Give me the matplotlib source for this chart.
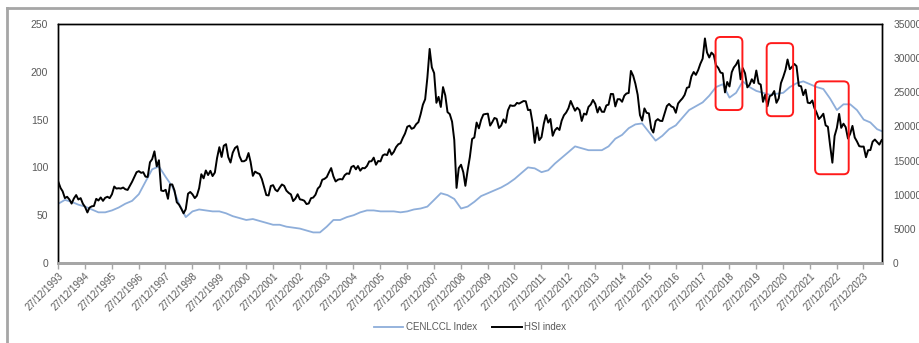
import numpy as np
import pandas as pd
import matplotlib
matplotlib.use("Agg")
import matplotlib.pyplot as plt
import matplotlib.dates as mdates
from matplotlib.lines import Line2D
from matplotlib.patches import FancyBboxPatch
from matplotlib.transforms import IdentityTransform

plt.rcParams['font.family'] = ['Liberation Sans', 'DejaVu Sans']

# =========================================================
# DATA
# =========================================================
# HSI index, month-end, Dec 1993 .. Aug 2024
hsi_values = [
    11900,
    10980, 10500, 9500, 9700, 9300, 8700, 9450, 9950, 9300, 9500, 8690, 8190,          # 1994
    7400, 8100, 8300, 8350, 9400, 9150, 9600, 9100, 9550, 9700, 9500, 10070,           # 1995
    11200, 10900, 10950, 10900, 11050, 10800, 10700, 11300, 11900, 12600, 13300, 13450,  # 1996
    13200, 13300, 12650, 12600, 14750, 15200, 16350, 14150, 15050, 10620, 10530, 10720,  # 1997
    9400, 11500, 11500, 10600, 8900, 8550, 7950, 7270, 7880, 10150, 10400, 10050,      # 1998
    9500, 9850, 10950, 13000, 12400, 13550, 12880, 13500, 12730, 13250, 15380, 16960,  # 1999
    15530, 17170, 17400, 15520, 14710, 16150, 16840, 17100, 15650, 14900, 14900, 15100,  # 2000
    16100, 14800, 12760, 13390, 13170, 13040, 12300, 11090, 9950, 9890, 11280, 11400,  # 2001
    10720, 10500, 11030, 11500, 11300, 10600, 10270, 10040, 9070, 9440, 10070, 9320,   # 2002
    9250, 9120, 8630, 8720, 9490, 9580, 10000, 10900, 11230, 12190, 12320, 12580,      # 2003
    13290, 13900, 12680, 11940, 12200, 12290, 12240, 12850, 13120, 13050, 14060, 14230,  # 2004
    13720, 14200, 13520, 13910, 13870, 14200, 14880, 14900, 15430, 14390, 14940, 14880,  # 2005
    15750, 15920, 15800, 16660, 15860, 16270, 16970, 17390, 17540, 18320, 18960, 19960,  # 2006
    20110, 19650, 19800, 20320, 20630, 21770, 23180, 23980, 27140, 31350, 28640, 27810,  # 2007
    23460, 24330, 22850, 25760, 24530, 22100, 21800, 20700, 18020, 11000, 13890, 14390,  # 2008
    13280, 11300, 13580, 15520, 18170, 18380, 20570, 19720, 20960, 21750, 21820, 21870,  # 2009
    20120, 20610, 21240, 21110, 19770, 20130, 21030, 20540, 22360, 23100, 23010, 23040,  # 2010
    23450, 23340, 23530, 23720, 23680, 22400, 22440, 20530, 17590, 19860, 17990, 18430,  # 2011
    20390, 21680, 20560, 21090, 18630, 19440, 19800, 19480, 20840, 21640, 22030, 22660,  # 2012
    23730, 23020, 22300, 22740, 22390, 20800, 21880, 21730, 22860, 23210, 23880, 23310,  # 2013
    22040, 22840, 22150, 22130, 23080, 23190, 24760, 24740, 22930, 23990, 23990, 23610,  # 2014
    24510, 24820, 24900, 28130, 27420, 26250, 24640, 21670, 20850, 22640, 21990, 21910,  # 2015
    19680, 19110, 20780, 21070, 20820, 20790, 21890, 22980, 23300, 22930, 22790, 22000,  # 2016
    23360, 23740, 24110, 24620, 25660, 25760, 27320, 27970, 27550, 28250, 29180, 29920,  # 2017
    32890, 30840, 30090, 30810, 30470, 28960, 28580, 27890, 27790, 24980, 26510, 25850,  # 2018
    27940, 28630, 29050, 29700, 26900, 28540, 27780, 25720, 26090, 26910, 26350, 28190,  # 2019
    26310, 26130, 23600, 24640, 22960, 24430, 24600, 25180, 23460, 24110, 26340, 27230,  # 2020
    28280, 29800, 28380, 28720, 29150, 28830, 25960, 25880, 24580, 25380, 23480, 23400,  # 2021
    23800, 22710, 21990, 21090, 21420, 21860, 20160, 19950, 17220, 14690, 18600, 19780,  # 2022
    21840, 19790, 20400, 19890, 18230, 18920, 20080, 18380, 17810, 17110, 17040, 17050,  # 2023
    15490, 16510, 16540, 17760, 18080, 17720, 17340, 17990,                            # 2024
]

# CENLCCL index, quarter-end, Dec 1993 .. Sep 2024
ccl_values = [
    62,
    66, 64, 61, 59,      # 1994
    56, 53, 53, 55,      # 1995
    58, 62, 65, 72,      # 1996
    85, 98, 101, 90,     # 1997
    80, 62, 48, 54,      # 1998
    56, 55, 54, 54,      # 1999
    52, 49, 47, 45,      # 2000
    46, 44, 42, 40,      # 2001
    40, 38, 37, 36,      # 2002
    34, 32, 32, 38,      # 2003
    45, 45, 48, 50,      # 2004
    53, 55, 55, 54,      # 2005
    54, 54, 53, 54,      # 2006
    56, 57, 59, 66,      # 2007
    73, 71, 67, 57,      # 2008
    59, 64, 70, 73,      # 2009
    76, 79, 83, 88,      # 2010
    94, 100, 99, 95,     # 2011
    97, 104, 110, 116,   # 2012
    122, 120, 118, 118,  # 2013
    118, 122, 130, 134,  # 2014
    141, 145, 146, 137,  # 2015
    128, 133, 140, 144,  # 2016
    152, 160, 164, 168,  # 2017
    175, 184, 187, 173,  # 2018
    178, 190, 184, 180,  # 2019
    178, 176, 177, 178,  # 2020
    184, 188, 190, 187,  # 2021
    184, 182, 172, 160,  # 2022
    166, 166, 160, 150,  # 2023
    147, 140, 137,       # 2024
]

tick_years = list(range(1993, 2024))

# highlighted periods: (start, end, hsi low, hsi high)
boxes = [
    ("2018-06-25", "2019-06-25", 22400, 33100),
    ("2020-05-20", "2021-05-15", 21500, 32200),
    ("2022-03-10", "2023-06-10", 13000, 26600),
]

hsi_dates = pd.date_range("1993-12-31", periods=len(hsi_values), freq="ME")
ccl_dates = pd.date_range("1993-12-31", periods=len(ccl_values), freq="QE")

GRAY_TXT = "#595959"
GRAY_AX = "#A6A6A6"
BLUE = "#8EAEDA"

# =========================================================
# PLOT
# =========================================================
fig = plt.figure(figsize=(9.2, 3.43), dpi=100)
ax = fig.add_axes([58 / 920, 1 - 263 / 343, (882 - 58) / 920, (263 - 24) / 343])
ax2 = ax.twinx()

l1, = ax.plot(ccl_dates, ccl_values, color=BLUE, lw=1.3, label="CENLCCL Index")
l2, = ax2.plot(hsi_dates, hsi_values, color="black", lw=1.4, label="HSI index")

x0 = pd.Timestamp("1993-12-27")
x1 = pd.Timestamp("2024-09-05")
ax.set_xlim(x0, x1)
ax.set_ylim(0, 250)
ax2.set_ylim(0, 35000)
ax.set_yticks(range(0, 251, 50))
ax2.set_yticks(range(0, 35001, 5000))

ticks = [pd.Timestamp(f"{y}-12-27") for y in tick_years]
ax.set_xticks(ticks)
ax.set_xticklabels([t.strftime("%d/%m/%Y") for t in ticks], rotation=45,
                   ha="right", rotation_mode="anchor", fontsize=7, color=GRAY_TXT)

for a in (ax, ax2):
    for s in ("top", "left", "right"):
        a.spines[s].set_color("black")
        a.spines[s].set_linewidth(1.0)
    a.spines["bottom"].set_color(GRAY_AX)
    a.spines["bottom"].set_linewidth(2.0)

ax.tick_params(axis="x", direction="out", length=4, width=1, color=GRAY_AX, pad=2)
ax.tick_params(axis="y", length=0, pad=7, labelsize=7.5, labelcolor=GRAY_TXT)
ax2.tick_params(axis="y", length=0, pad=8, labelsize=7.3, labelcolor=GRAY_TXT)

# red highlight boxes (drawn in pixels so corners stay round)
for start, end, lo, hi in boxes:
    p0 = ax2.transData.transform((mdates.date2num(pd.Timestamp(start)), lo))
    p1 = ax2.transData.transform((mdates.date2num(pd.Timestamp(end)), hi))
    box = FancyBboxPatch((p0[0], p0[1]), p1[0] - p0[0], p1[1] - p0[1],
                         boxstyle="round,pad=0,rounding_size=5",
                         transform=IdentityTransform(), fill=False,
                         edgecolor="#FF1A1A", lw=1.4, zorder=10)
    fig.add_artist(box)

fig.legend(handles=[l1, l2], loc="center", bbox_to_anchor=(470 / 920, 1 - 327 / 343),
           ncol=2, frameon=False, fontsize=7, labelcolor=GRAY_TXT,
           handlelength=3.0, columnspacing=1.6, handletextpad=0.3)

# outer chart frame (cropped screenshot)
fig.add_artist(Line2D([7 / 920, 7 / 920], [0, 1 - 8 / 343], color=GRAY_AX, lw=2,
                      transform=fig.transFigure))
fig.add_artist(Line2D([7 / 920, 1], [1 - 8 / 343, 1 - 8 / 343], color=GRAY_AX, lw=2,
                      transform=fig.transFigure))

fig.savefig("out.png", dpi=100)
